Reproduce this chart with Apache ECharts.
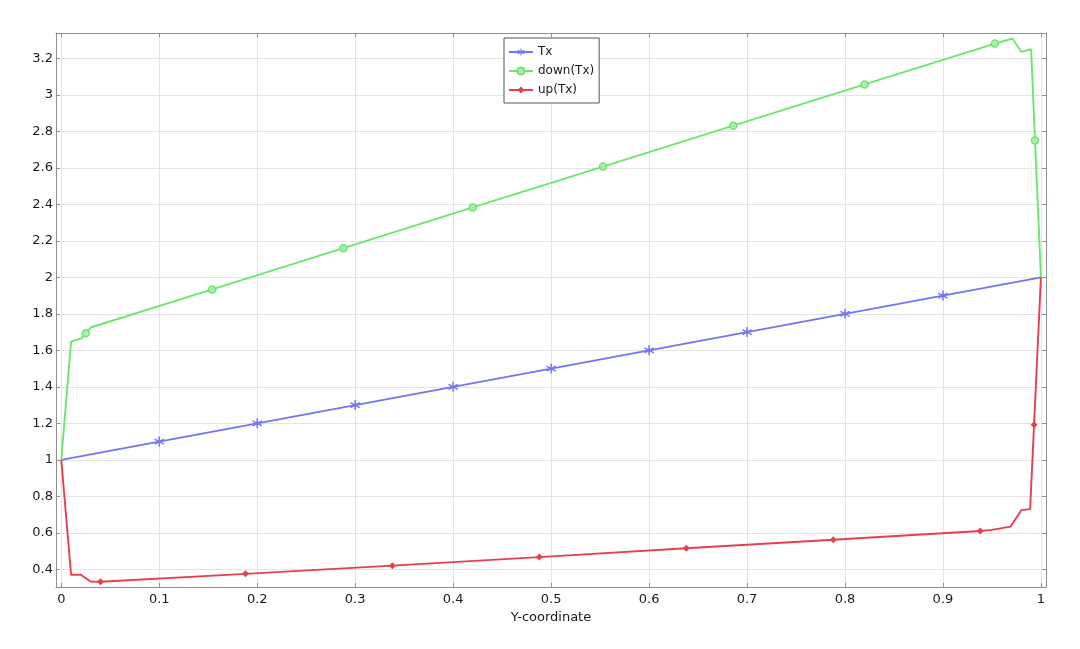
<!DOCTYPE html>
<html>
<head>
<meta charset="utf-8">
<script src="https://cdn.jsdelivr.net/npm/echarts@6/dist/echarts.min.js"></script>
<style>html,body{margin:0;padding:0;background:#fff;}#c{width:1080px;height:649px;}</style>
</head>
<body>
<div id="c"></div>
<script>
// ---- data ----
const xTicks = [0, 0.1, 0.2, 0.3, 0.4, 0.5, 0.6, 0.7, 0.8, 0.9, 1];
const yTicks = [0.4, 0.6, 0.8, 1, 1.2, 1.4, 1.6, 1.8, 2, 2.2, 2.4, 2.6, 2.8, 3, 3.2];
const xRange = [-0.0054, 1.0052];
const yRange = [0.303, 3.339];
const seriesNames = ['Tx', 'down(Tx)', 'up(Tx)'];
const xAxisTitle = 'Y-coordinate';

// Tx: [x, y, marker?]
const txPoints = [
  [0, 1, 0], [0.1, 1.1, 1], [0.2, 1.2, 1], [0.3, 1.3, 1], [0.4, 1.4, 1], [0.5, 1.5, 1],
  [0.6, 1.6, 1], [0.7, 1.7, 1], [0.8, 1.8, 1], [0.9, 1.9, 1], [1, 2, 0]
];
// down(Tx)
const downPoints = [
  [0, 1, 0], [0.01, 1.648, 0], [0.021, 1.667, 0], [0.025, 1.694, 1], [0.03, 1.725, 0],
  [0.154, 1.934, 1], [0.288, 2.16, 1], [0.42, 2.383, 1], [0.553, 2.607, 1],
  [0.686, 2.831, 1], [0.82, 3.057, 1], [0.953, 3.281, 1], [0.971, 3.309, 0],
  [0.98, 3.236, 0], [0.99, 3.25, 0], [0.994, 2.75, 1], [1, 2, 0]
];
// up(Tx)
const upPoints = [
  [0, 1, 0], [0.01, 0.37, 0], [0.02, 0.37, 0], [0.03, 0.333, 0], [0.04, 0.332, 1],
  [0.188, 0.375, 1], [0.338, 0.42, 1], [0.488, 0.467, 1], [0.638, 0.515, 1],
  [0.788, 0.562, 1], [0.938, 0.61, 1], [0.95, 0.616, 0], [0.969, 0.634, 0],
  [0.98, 0.724, 0], [0.989, 0.73, 0], [0.993, 1.192, 1], [1, 2, 0]
];

// ---- styling ----
const colors = ['#7474f4', '#6be86b', '#e6404e'];
const asterisk = 'path://M-0.7 -5 L0.7 -5 L0.7 5 L-0.7 5 Z M-3.98 -3.106 L4.68 1.894 L3.98 3.106 L-4.68 -1.894 Z M3.98 -3.106 L4.68 -1.894 L-3.98 3.106 L-4.68 1.894 Z';
const font = 'DejaVu Sans';
const fmt = v => String(+(+v).toFixed(2));

function toData(pts) {
  return pts.map(p => p[2] ? { value: [p[0], p[1]] } : { value: [p[0], p[1]], symbol: 'none' });
}

const frameColor = '#8f8f8f';
const gridColor = '#e4e4e4';

function xAxisCfg(pos, main) {
  return {
    type: 'value', position: pos, min: xRange[0], max: xRange[1],
    name: main ? xAxisTitle : '', nameLocation: 'middle', nameGap: 19,
    nameTextStyle: { fontFamily: font, fontSize: 13, color: '#1a1a1a' },
    axisLine: { show: true, onZero: false, lineStyle: { color: frameColor, width: 1 } },
    axisTick: { show: true, inside: true, length: 4, customValues: xTicks, lineStyle: { color: frameColor } },
    axisLabel: { show: main, customValues: xTicks, formatter: fmt, margin: 6,
      fontFamily: font, fontSize: 13, color: '#1a1a1a' },
    splitLine: { show: main, lineStyle: { color: gridColor, width: 1 } }
  };
}
function yAxisCfg(pos, main) {
  return {
    type: 'value', position: pos, min: yRange[0], max: yRange[1],
    axisLine: { show: true, onZero: false, lineStyle: { color: frameColor, width: 1 } },
    axisTick: { show: true, inside: true, length: 4, customValues: yTicks, lineStyle: { color: frameColor } },
    axisLabel: { show: main, customValues: yTicks, formatter: fmt, margin: 3,
      fontFamily: font, fontSize: 13, color: '#1a1a1a' },
    splitLine: { show: main, lineStyle: { color: gridColor, width: 1 } }
  };
}

const chart = echarts.init(document.getElementById('c'), null, { renderer: 'canvas' });
chart.setOption({
  animation: false,
  backgroundColor: '#fff',
  grid: { left: 56, top: 33, right: 34, bottom: 62, containLabel: false },
  xAxis: [xAxisCfg('bottom', true), xAxisCfg('top', false)],
  yAxis: [yAxisCfg('left', true), yAxisCfg('right', false)],
  legend: {
    left: 504, top: 38, orient: 'vertical',
    backgroundColor: '#fff', borderColor: '#555', borderWidth: 1, borderRadius: 0,
    padding: [8, 5, 7, 4], itemGap: 7, itemWidth: 24, itemHeight: 9,
    textStyle: { fontFamily: font, fontSize: 12, color: '#1a1a1a' },
    data: seriesNames
  },
  series: [
    {
      name: seriesNames[0], type: 'line', data: toData(txPoints),
      symbol: asterisk, symbolSize: 10, showSymbol: true, clip: false,
      lineStyle: { color: colors[0], width: 1.9 },
      itemStyle: { color: colors[0] }
    },
    {
      name: seriesNames[1], type: 'line', data: toData(downPoints),
      symbol: 'circle', symbolSize: 7, showSymbol: true, clip: false,
      lineStyle: { color: colors[1], width: 1.9 },
      itemStyle: { color: 'rgba(170,240,170,0.9)', borderColor: colors[1], borderWidth: 1.5 }
    },
    {
      name: seriesNames[2], type: 'line', data: toData(upPoints),
      symbol: 'diamond', symbolSize: 7, showSymbol: true, clip: false,
      lineStyle: { color: colors[2], width: 1.9 },
      itemStyle: { color: colors[2] }
    }
  ]
});
</script>
</body>
</html>
